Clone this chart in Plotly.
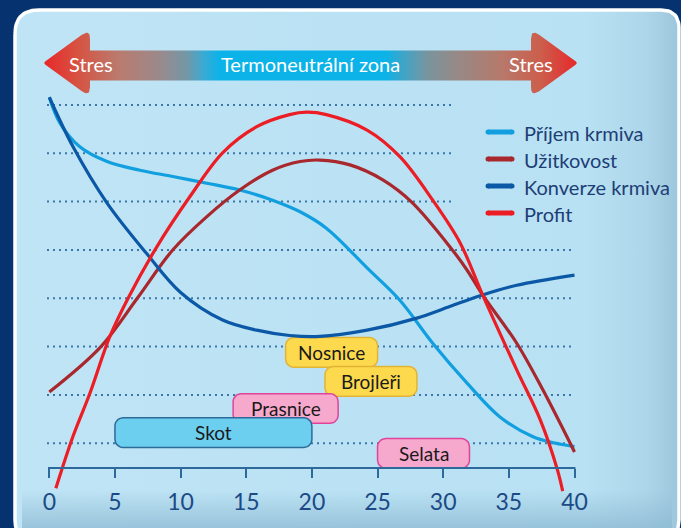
import numpy as np
import plotly.graph_objects as go

# ---------------- data ----------------
prijem_t = [0, 0.8, 2.3, 4.4, 6.9, 9.4, 12.0, 14.5, 17.0, 19.1, 21.1, 24.2, 26.7, 29.2, 31.8, 34.3, 36.8, 38.4, 40]
prijem_v = [8.16, 7.63, 7.14, 6.83, 6.65, 6.52, 6.38, 6.24, 6.03, 5.79, 5.45, 4.63, 3.96, 3.07, 2.25, 1.55, 1.14, 1.01, 0.93]

uzit_t = [0, 3.9, 6.7, 9.4, 12.0, 14.5, 17.0, 19.1, 20.6, 22.9, 25.4, 27.6, 30.7, 31.8, 33.0, 35.6, 37.6, 40]
uzit_v = [2.06, 2.99, 4.0, 5.0, 5.69, 6.24, 6.65, 6.83, 6.86, 6.76, 6.45, 5.99, 5.0, 4.59, 4.07, 3.07, 2.1, 0.82]

konv_t = [0, 1.8, 4.4, 7.4, 10.0, 13.2, 15.8, 18.3, 20.6, 24.2, 28.0, 30.5, 33.0, 35.6, 40]
konv_v = [8.16, 7.14, 5.97, 4.93, 4.12, 3.55, 3.34, 3.23, 3.21, 3.34, 3.59, 3.83, 4.07, 4.27, 4.48]

profit_t = [0.5, 1.8, 3.1, 4.6, 6.0, 8.2, 10.7, 13.2, 15.8, 18.3, 19.6, 21.1, 24.2, 26.7, 29.2, 31.3, 33.0, 35.6, 37.4, 38.7, 39.1]
profit_v = [0.07, 1.14, 2.04, 3.2, 4.0, 5.07, 6.1, 7.01, 7.55, 7.80, 7.85, 7.80, 7.48, 6.93, 6.03, 5.14, 4.07, 2.52, 1.48, 0.45, 0.01]

series_names = ["Příjem krmiva", "Užitkovost", "Konverze krmiva", "Profit"]

animals = ["Nosnice", "Brojleři", "Prasnice", "Skot", "Selata"]
zone_from = [18, 21, 14, 5, 25]
zone_to = [25, 28, 22, 20, 32]

x_ticks = [0, 5, 10, 15, 20, 25, 30, 35, 40]
grid_levels = [1, 2, 3, 4, 5, 6, 7, 8]

arrow_texts = ["Stres", "Termoneutrální zona", "Stres"]

# ---------------- styling ----------------
W, H = 681, 528
FONT = "Lato"
NAVY = "#06326f"
series_colors = ["#119fe0", "#a8282d", "#0b58a6", "#ec1d25"]
row_centers = [2.88, 2.28, 1.72, 1.22, 0.79]
box_fill = ["#fdd94e", "#fdd94e", "#f7a9cd", "#6dcff0", "#f7a9cd"]
box_line = ["#e2b436", "#e2b436", "#e0449a", "#2c6a9a", "#e0449a"]
legend_rows_py = [132, 159, 186, 213]

# pixel geometry of the data area
PX0, PXU = 49.3, 13.13        # pixel of x=0, pixels per unit
PY0, PYU = 491.6, 48.33       # pixel of y=0, pixels per unit
xr = [-0.5, 40.5]
yr = [(PY0 - 505) / PYU, (PY0 - 78) / PYU]
xdom = [(PX0 + xr[0] * PXU) / W, (PX0 + xr[1] * PXU) / W]
ydom = [1 - 505 / H, 1 - 78 / H]
axis_py = 468
axis_y = (PY0 - axis_py) / PYU


def round_polygon(verts, radii, n=10):
    pts = []
    m = len(verts)
    for i in range(m):
        v = np.array(verts[i], float)
        r = radii[i]
        if r == 0:
            pts.append(v)
            continue
        p = np.array(verts[i - 1], float)
        q = np.array(verts[(i + 1) % m], float)
        a = v + (p - v) * r / np.linalg.norm(p - v)
        b = v + (q - v) * r / np.linalg.norm(q - v)
        for t in np.linspace(0, 1, n):
            pts.append((1 - t) ** 2 * a + 2 * (1 - t) * t * v + t ** 2 * b)
    pts.append(pts[0])
    pts = np.array(pts)
    return pts[:, 0], pts[:, 1]


fig = go.Figure()

# ---------- decorative layer (pixel coordinates, subplot xy) ----------
px_, py_ = round_polygon([(15, 10), (679, 10), (679, 540), (15, 540)], [24, 18, 20, 20], n=14)
fig.add_trace(go.Scatter(
    x=px_, y=py_, mode="lines", fill="toself",
    line=dict(color="white", width=3.5),
    fillgradient=dict(type="horizontal", start=15, stop=679,
                      colorscale=[[0, "#bfe4f5"], [0.86, "#b8e1f3"], [0.95, "#aed6ea"], [1, "#9cc6dc"]]),
    hoverinfo="skip", showlegend=False, xaxis="x", yaxis="y"))
fig.add_trace(go.Scatter(
    x=[22, 672, 672, 22, 22], y=[490, 490, 528, 528, 490], mode="lines", fill="toself",
    line=dict(width=0, color="rgba(0,0,0,0)"),
    fillgradient=dict(type="vertical", start=490, stop=528,
                      colorscale=[[0, "rgba(140,185,210,0)"], [1, "rgba(140,185,210,0.75)"]]),
    hoverinfo="skip", showlegend=False, xaxis="x", yaxis="y"))

ax_, ay_ = round_polygon(
    [(43, 63), (90, 29), (90, 50.5), (531, 50.5), (531, 29), (578, 63), (531, 97), (531, 80.5), (90, 80.5), (90, 97)],
    [3, 10, 0, 0, 10, 3, 10, 0, 0, 10])
fig.add_trace(go.Scatter(
    x=ax_, y=ay_, mode="lines", fill="toself", line=dict(width=0, color="rgba(0,0,0,0)"),
    fillgradient=dict(type="horizontal", start=43, stop=578, colorscale=[
        [0.0, "#e8262a"], [0.06, "#d8503f"], [0.14, "#bb7a6e"], [0.22, "#9a8a8c"],
        [0.27, "#7298a8"], [0.30, "#3aaad4"], [0.33, "#0cb3e8"], [0.64, "#0cb3e8"],
        [0.67, "#3aa6cc"], [0.72, "#7a949e"], [0.77, "#958a88"], [0.86, "#b8786a"],
        [0.93, "#cc5e4c"], [1.0, "#e8262a"]]),
    hoverinfo="skip", showlegend=False, xaxis="x", yaxis="y"))

for txt, xc in zip(arrow_texts, [91, 310, 530.5]):
    fig.add_annotation(x=xc, y=64, xref="x", yref="y", text=txt, showarrow=False,
                       font=dict(family=FONT, size=20, color="white"), xanchor="center", yanchor="middle")

# legend (drawn by hand for exact spacing)
for nm, col, ly in zip(series_names, series_colors, legend_rows_py):
    fig.add_shape(type="line", xref="x", yref="y", x0=488, x1=512, y0=ly, y1=ly,
                  line=dict(color=col, width=5), layer="above")
    fig.add_shape(type="circle", xref="x", yref="y", x0=485.5, x1=490.5, y0=ly - 2.5, y1=ly + 2.5,
                  fillcolor=col, line=dict(width=0), layer="above")
    fig.add_shape(type="circle", xref="x", yref="y", x0=509.5, x1=514.5, y0=ly - 2.5, y1=ly + 2.5,
                  fillcolor=col, line=dict(width=0), layer="above")
    fig.add_annotation(x=522, y=ly + 0.5, xref="x", yref="y", text=nm, showarrow=False,
                       font=dict(family=FONT, size=20, color="#1d3e75"), xanchor="left", yanchor="middle")

# ---------- data layer (subplot x2y2) ----------
rx, ry = 8 / PXU, 8 / PYU
hh = 14.8 / PYU
for name, a, b, yc, fc, lc in zip(animals, zone_from, zone_to, row_centers, box_fill, box_line):
    pts = []
    for cx, cy, a0 in [(b - rx, yc + hh - ry, 0), (a + rx, yc + hh - ry, 90),
                       (a + rx, yc - hh + ry, 180), (b - rx, yc - hh + ry, 270)]:
        for t in np.linspace(a0, a0 + 90, 8):
            pts.append((cx + rx * np.cos(np.radians(t)), cy + ry * np.sin(np.radians(t))))
    pts.append(pts[0])
    pts = np.array(pts)
    fig.add_trace(go.Scatter(x=pts[:, 0], y=pts[:, 1], mode="lines", fill="toself", fillcolor=fc,
                             line=dict(color=lc, width=1.5), hoverinfo="skip", showlegend=False,
                             xaxis="x2", yaxis="y2"))
    fig.add_annotation(x=(a + b) / 2, y=yc, xref="x2", yref="y2", text=name, showarrow=False,
                       font=dict(family=FONT, size=19, color="#1a1a1a"), xanchor="center", yanchor="middle")

series = [(prijem_t, prijem_v), (uzit_t, uzit_v), (konv_t, konv_v), (profit_t, profit_v)]
for i, ((t, v), nm, col) in enumerate(zip(series, series_names, series_colors)):
    fig.add_trace(go.Scatter(x=t, y=v, mode="lines", name=nm, showlegend=False,
                             line=dict(color=col, width=3.2, shape="spline", smoothing=1.0),
                             xaxis="x2", yaxis="y2"))

# dotted gridlines
for lv in grid_levels:
    x_end = (455 - PX0) / PXU if lv >= 6 else (575 - PX0) / PXU
    fig.add_shape(type="line", xref="x2", yref="y2", x0=(47 - PX0) / PXU, x1=x_end, y0=lv, y1=lv,
                  line=dict(color="#3a78ab", width=2, dash="2px,4px"), layer="below")

# axis line
fig.add_shape(type="line", xref="x2", yref="y2", x0=(48 - PX0) / PXU, x1=(575.5 - PX0) / PXU,
              y0=axis_y, y1=axis_y, line=dict(color="#2d6a9b", width=2), layer="above")

fig.update_layout(
    width=W, height=H, autosize=False,
    margin=dict(l=0, r=0, t=0, b=0, autoexpand=False),
    paper_bgcolor=NAVY, plot_bgcolor="rgba(0,0,0,0)",
    showlegend=False,
    xaxis=dict(domain=[0, 1], range=[0, W], visible=False, fixedrange=True),
    yaxis=dict(domain=[0, 1], range=[H, 0], visible=False, fixedrange=True),
    xaxis2=dict(domain=xdom, range=xr, anchor="free", position=1 - axis_py / H,
                showgrid=False, zeroline=False, showline=False, automargin=False,
                tickmode="array", tickvals=x_ticks, ticktext=[str(v) for v in x_ticks],
                ticks="outside", ticklen=9, tickwidth=2, tickcolor="#2d6a9b",
                ticklabelstandoff=4,
                tickfont=dict(family=FONT, size=23, color="#1b4a86")),
    yaxis2=dict(domain=ydom, range=yr, anchor="x2", visible=False, showgrid=False, zeroline=False),
)

fig.write_html("out.html", config={"displayModeBar": False},
               post_script="document.body.style.margin='0';document.body.style.overflow='hidden';"
                           "document.body.style.background='" + NAVY + "';")
